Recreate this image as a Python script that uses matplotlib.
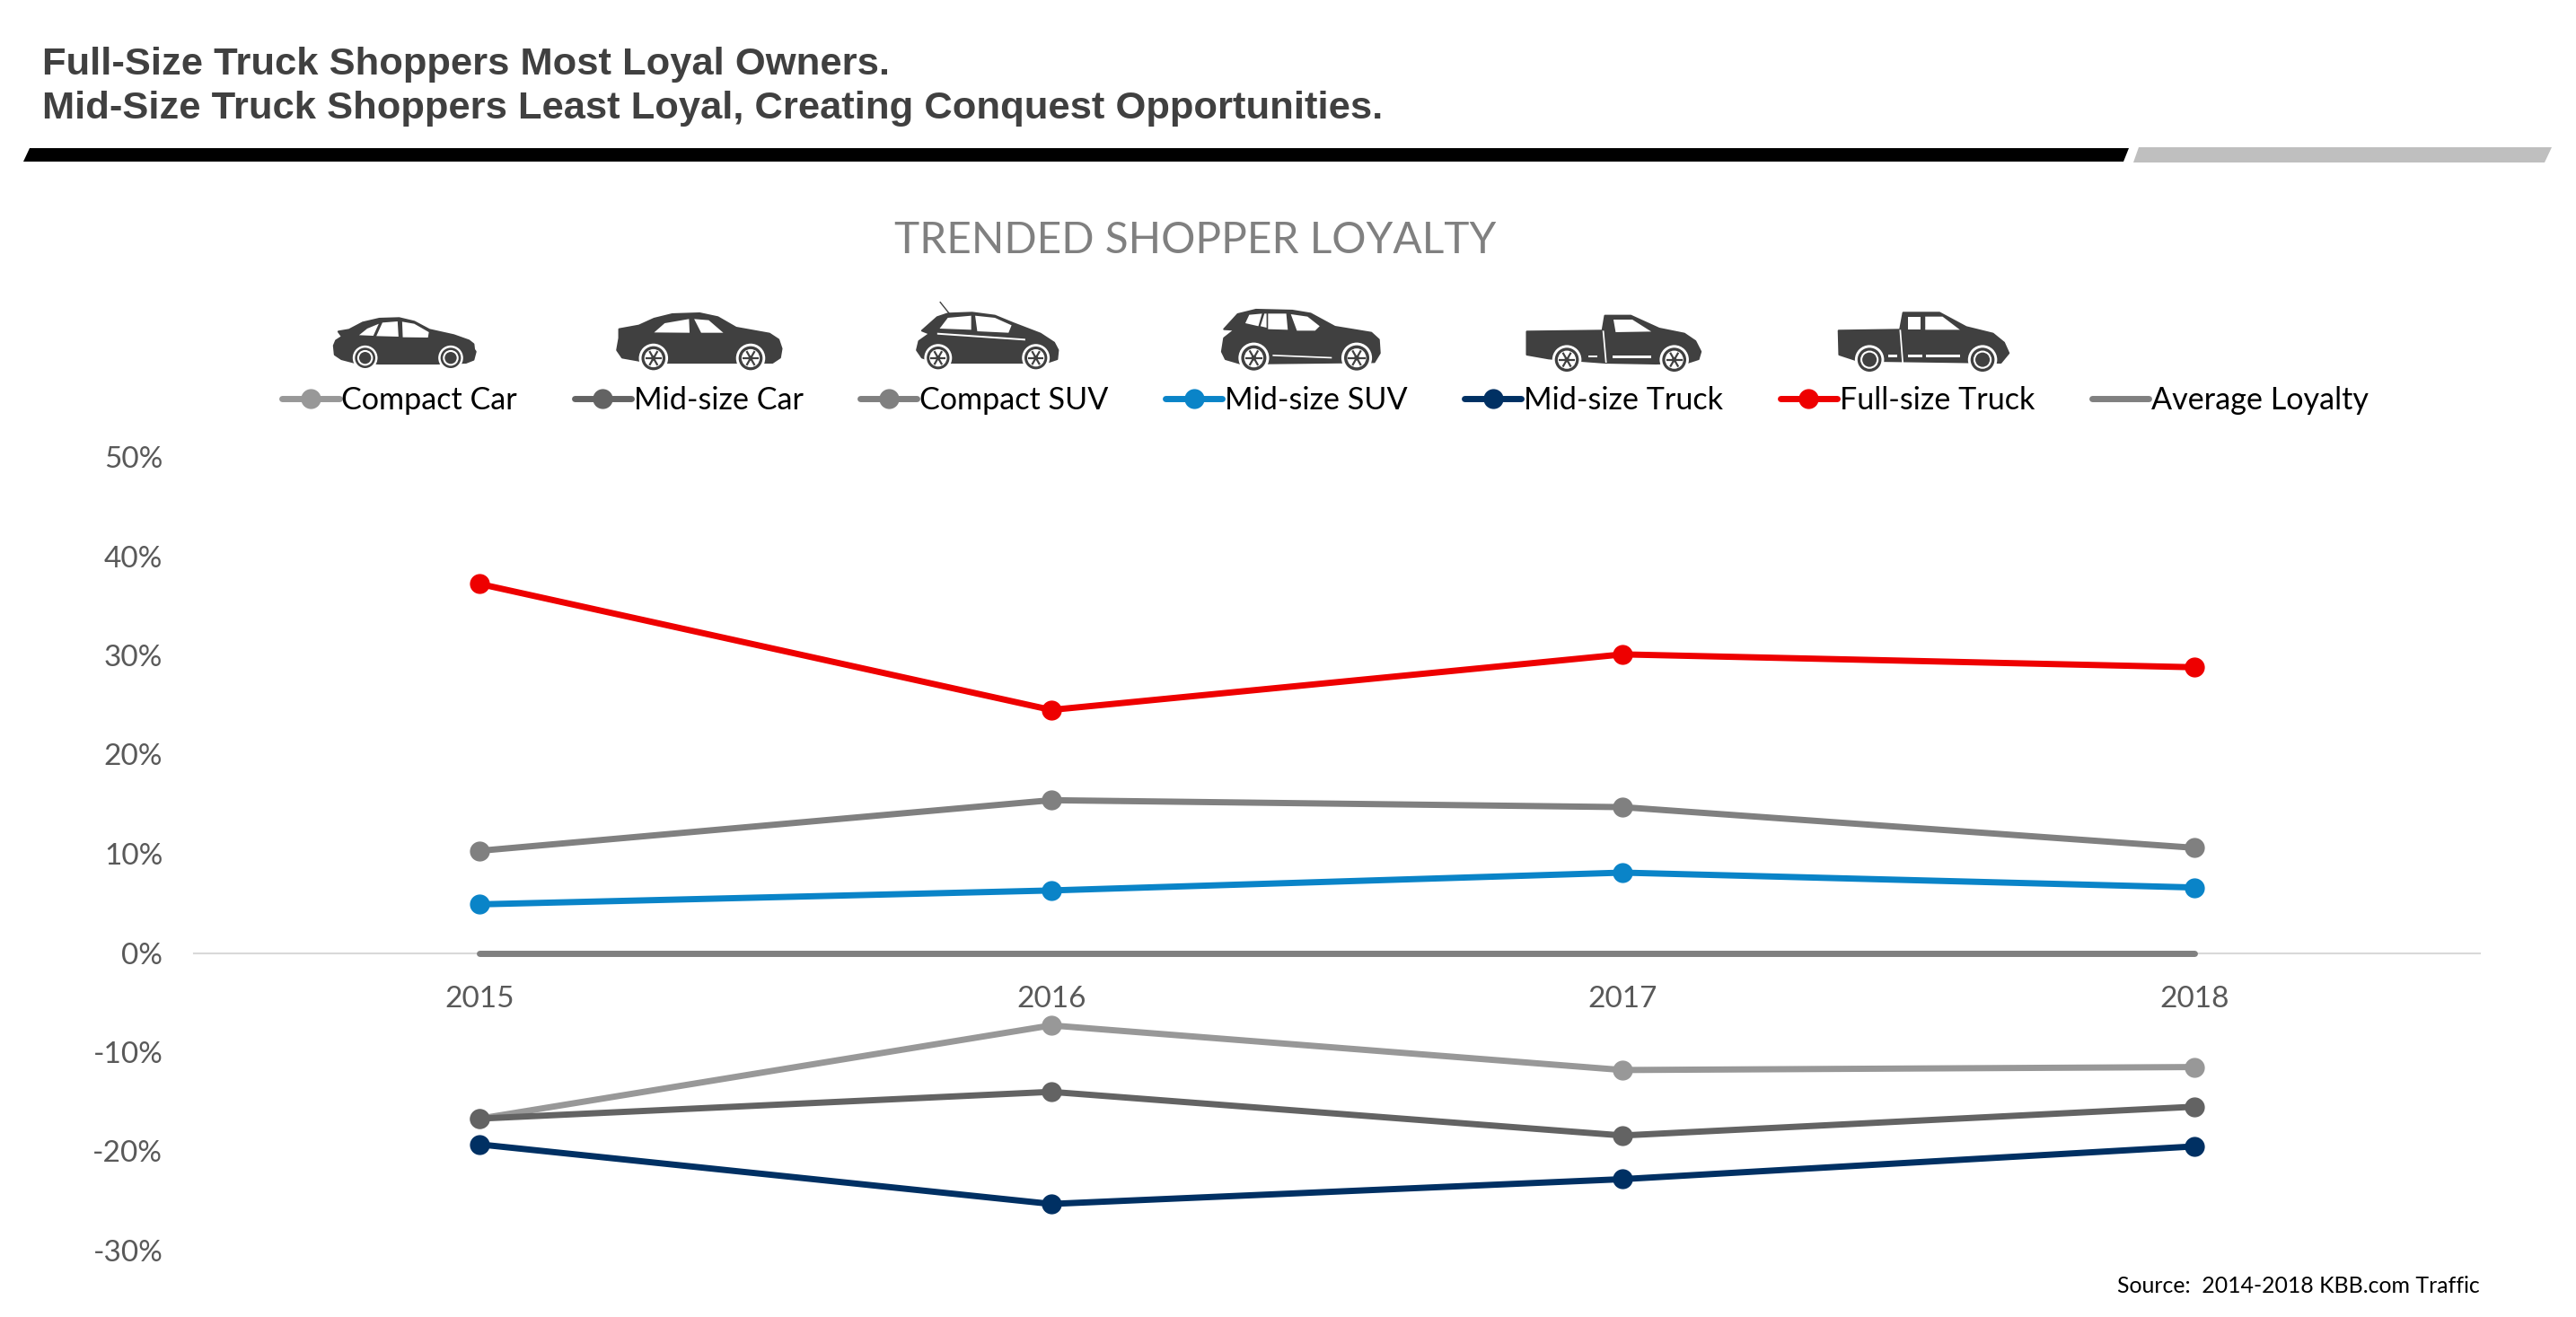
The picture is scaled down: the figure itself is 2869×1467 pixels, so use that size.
import matplotlib
matplotlib.use("Agg")
import matplotlib.pyplot as plt
from matplotlib.patches import Circle, Polygon

W, H = 2869, 1467
BODY_FONT = "Lato"
ICON = "#404040"

years = ["2015", "2016", "2017", "2018"]
y_ticks = [-30, -20, -10, 0, 10, 20, 30, 40, 50]

compact_car = [-16.7, -7.3, -11.8, -11.5]
midsize_car = [-16.7, -14.0, -18.4, -15.5]
compact_suv = [10.3, 15.4, 14.7, 10.6]
midsize_suv = [4.9, 6.3, 8.1, 6.6]
midsize_truck = [-19.3, -25.3, -22.8, -19.5]
fullsize_truck = [37.2, 24.5, 30.1, 28.8]
average_loyalty = [0, 0, 0, 0]


def add_icon(canvas, origin, scale, body, windows, wheels, radius, stripes=(), spokes=True):
    def to_px(points):
        return [(origin[0] + x / scale, origin[1] + y / 3) for x, y in points]

    canvas.add_patch(Polygon(to_px(body), closed=True, fc=ICON, ec=ICON, lw=1.5, joinstyle="round"))
    for shape in list(windows) + list(stripes):
        canvas.add_patch(Polygon(to_px(shape), closed=True, fc="white", ec="none"))
    for cx, cy in wheels:
        (px, py), = to_px([(cx, cy)])
        r = radius / 3
        canvas.add_patch(Circle((px, py), r * 1.22, fc="white", ec="none"))
        canvas.add_patch(Circle((px, py), r, fc=ICON, ec="none"))
        canvas.add_patch(Circle((px, py), r * 0.68, fc="white" if spokes else ICON, ec="white", lw=1.5))
        if spokes:
            for dx, dy in [(1, 0), (0.5, 0.87), (-0.5, 0.87)]:
                canvas.plot([px - dx * r * 0.68, px + dx * r * 0.68], [py - dy * r * 0.68, py + dy * r * 0.68],
                            color=ICON, lw=1.6, solid_capstyle="butt")
            canvas.add_patch(Circle((px, py), r * 0.2, fc=ICON, ec="none"))


fig = plt.figure(figsize=(W / 100, H / 100), dpi=100, facecolor="white")
ax = fig.add_axes([216 / W, 1 - 1393 / H, (2762 - 216) / W, (1393 - 509) / H])

series = [
    ("Compact Car", compact_car, "#989898", "o"),
    ("Mid-size Car", midsize_car, "#636363", "o"),
    ("Compact SUV", compact_suv, "#808080", "o"),
    ("Mid-size SUV", midsize_suv, "#0A84C8", "o"),
    ("Mid-size Truck", midsize_truck, "#003063", "o"),
    ("Full-size Truck", fullsize_truck, "#EE0000", "o"),
    ("Average Loyalty", average_loyalty, "#808080", None),
]
x = range(len(years))
for label, values, color, marker in series:
    ax.plot(x, values, color=color, lw=5, marker=marker, ms=15, label=label,
            solid_capstyle="round", clip_on=False, zorder=3)

ax.set_xlim(-0.5, 3.5)
ax.set_ylim(-30, 50)
ax.set_xticks(list(x), years)
ax.set_yticks(y_ticks, [f"{t}%" for t in y_ticks])
for side in ("top", "left", "right"):
    ax.spines[side].set_visible(False)
ax.spines["bottom"].set_position(("data", 0))
ax.spines["bottom"].set_color("#D9D9D9")
ax.spines["bottom"].set_linewidth(1.5)
ax.tick_params(axis="both", length=0, labelsize=24, labelcolor="#595959")
ax.tick_params(axis="x", pad=26)
ax.tick_params(axis="y", pad=25)
for tick in ax.get_xticklabels() + ax.get_yticklabels():
    tick.set_fontfamily(BODY_FONT)

ax.legend(loc="center", bbox_to_anchor=(1476 / W, 1 - 446 / H), bbox_transform=fig.transFigure,
          ncol=7, frameon=False, prop={"family": BODY_FONT, "size": 24.6}, handlelength=1.85,
          handletextpad=0.08, columnspacing=1.86, labelcolor="black", borderpad=0, borderaxespad=0)

# full-figure layer in pixel coordinates for the header and the vehicle icons
canvas = fig.add_axes([0, 0, 1, 1], facecolor="none")
canvas.set_xlim(0, W)
canvas.set_ylim(H, 0)
canvas.axis("off")

canvas.text(47, 83, "Full-Size Truck Shoppers Most Loyal Owners.", family="Liberation Sans",
            weight="bold", size=31.3, color="#404040", va="baseline")
canvas.text(47, 132, "Mid-Size Truck Shoppers Least Loyal, Creating Conquest Opportunities.",
            family="Liberation Sans", weight="bold", size=31.3, color="#404040", va="baseline")
canvas.add_patch(Polygon([(33, 165), (2371, 165), (2365, 180), (26, 180)], fc="black", ec="none"))
canvas.add_patch(Polygon([(2382, 164), (2842, 164), (2834, 181), (2376, 181)], fc="#BFBFBF", ec="none"))
canvas.text(1331, 268, "TRENDED SHOPPER LOYALTY", family=BODY_FONT, size=34.4, color="#808080",
            ha="center", va="center")
canvas.text(2762, 1433, "Source:  2014-2018 KBB.com Traffic", family=BODY_FONT, size=17.9, color="black",
            ha="right", va="center")

add_icon(canvas, (360, 330), 2.958,
         [(50, 118), (85, 112), (130, 88), (185, 75), (250, 73), (300, 85), (350, 112), (430, 130), (480, 148),
          (495, 160), (497, 178), (502, 185), (495, 212), (470, 222), (375, 225), (185, 225), (105, 222),
          (60, 210), (38, 195), (35, 165), (42, 148), (62, 135)],
         [[(118, 130), (145, 108), (183, 92), (165, 132)],
          [(195, 88), (245, 84), (248, 135), (175, 133)],
          [(260, 85), (300, 92), (348, 120), (345, 138), (262, 137)]],
         [(138, 206), (420, 206)], 34, spokes=False)
add_icon(canvas, (360, 330), 2.958,
         [(975, 110), (1040, 98), (1090, 75), (1150, 60), (1240, 57), (1300, 70), (1360, 105), (1470, 125),
          (1500, 145), (1510, 175), (1505, 205), (1480, 222), (1100, 222), (1040, 215), (985, 205), (968, 180),
          (975, 140)],
         [[(1090, 121), (1125, 90), (1205, 76), (1207, 122)],
          [(1222, 76), (1270, 80), (1318, 122), (1245, 122)]],
         [(1088, 207), (1408, 207)], 40)
add_icon(canvas, (1010, 330), 2.958,
         [(50, 115), (100, 70), (135, 58), (215, 55), (290, 65), (350, 90), (440, 125), (485, 155), (498, 180),
          (495, 210), (460, 222), (100, 222), (50, 205), (33, 180), (40, 150), (75, 125)],
         [[(108, 108), (135, 72), (212, 65), (212, 112)],
          [(225, 65), (290, 72), (345, 97), (335, 122), (232, 117)]],
         [(103, 206), (425, 206)], 38,
         stripes=[[(100, 122), (390, 142), (390, 148), (100, 128)]])
canvas.plot([1010 + 110 / 2.958, 1010 + 140 / 2.958], [330 + 20 / 3, 330 + 58 / 3], color=ICON, lw=1)
add_icon(canvas, (1010, 330), 2.958,
         [(1045, 110), (1090, 60), (1150, 45), (1270, 48), (1330, 58), (1410, 102), (1530, 122), (1555, 145),
          (1558, 190), (1540, 220), (1100, 225), (1050, 210), (1038, 185), (1045, 140), (1080, 112)],
         [[(1115, 90), (1128, 62), (1170, 58), (1158, 100)],
          [(1165, 100), (1178, 58), (1185, 58), (1185, 105)],
          [(1190, 58), (1250, 58), (1255, 112), (1190, 110)],
          [(1265, 60), (1320, 68), (1360, 100), (1345, 115), (1285, 115)]],
         [(1143, 206), (1482, 206)], 42,
         stripes=[[(1205, 195), (1400, 203), (1400, 208), (1205, 200)]])
add_icon(canvas, (1690, 330), 2.851,
         [(30, 118), (270, 115), (278, 65), (360, 65), (450, 108), (530, 125), (565, 150), (582, 185), (575, 210),
          (540, 222), (440, 225), (280, 222), (100, 208), (30, 195)],
         [[(305, 78), (365, 78), (425, 118), (312, 120)]],
         [(157, 212), (498, 212)], 40,
         stripes=[[(270, 115), (275, 115), (284, 222), (279, 222)], [(225, 197), (255, 197), (255, 205), (225, 205)],
                  [(302, 198), (425, 198), (425, 207), (302, 207)]])
add_icon(canvas, (1690, 330), 2.851,
         [(1020, 115), (1215, 112), (1225, 55), (1340, 55), (1425, 103), (1510, 125), (1545, 155), (1560, 190),
          (1535, 222), (1080, 215), (1022, 195)],
         [[(1240, 68), (1280, 68), (1280, 112), (1240, 112)],
          [(1295, 68), (1350, 68), (1405, 112), (1295, 112)]],
         [(1118, 212), (1477, 212)], 40,
         stripes=[[(1213, 112), (1218, 112), (1226, 222), (1221, 222)], [(1178, 196), (1205, 196), (1205, 204), (1178, 204)],
                  [(1240, 196), (1285, 196), (1285, 204), (1240, 204)], [(1298, 196), (1405, 196), (1405, 204), (1298, 204)]],
         spokes=False)

fig.savefig("out.png", dpi=100)
plt.close(fig)
